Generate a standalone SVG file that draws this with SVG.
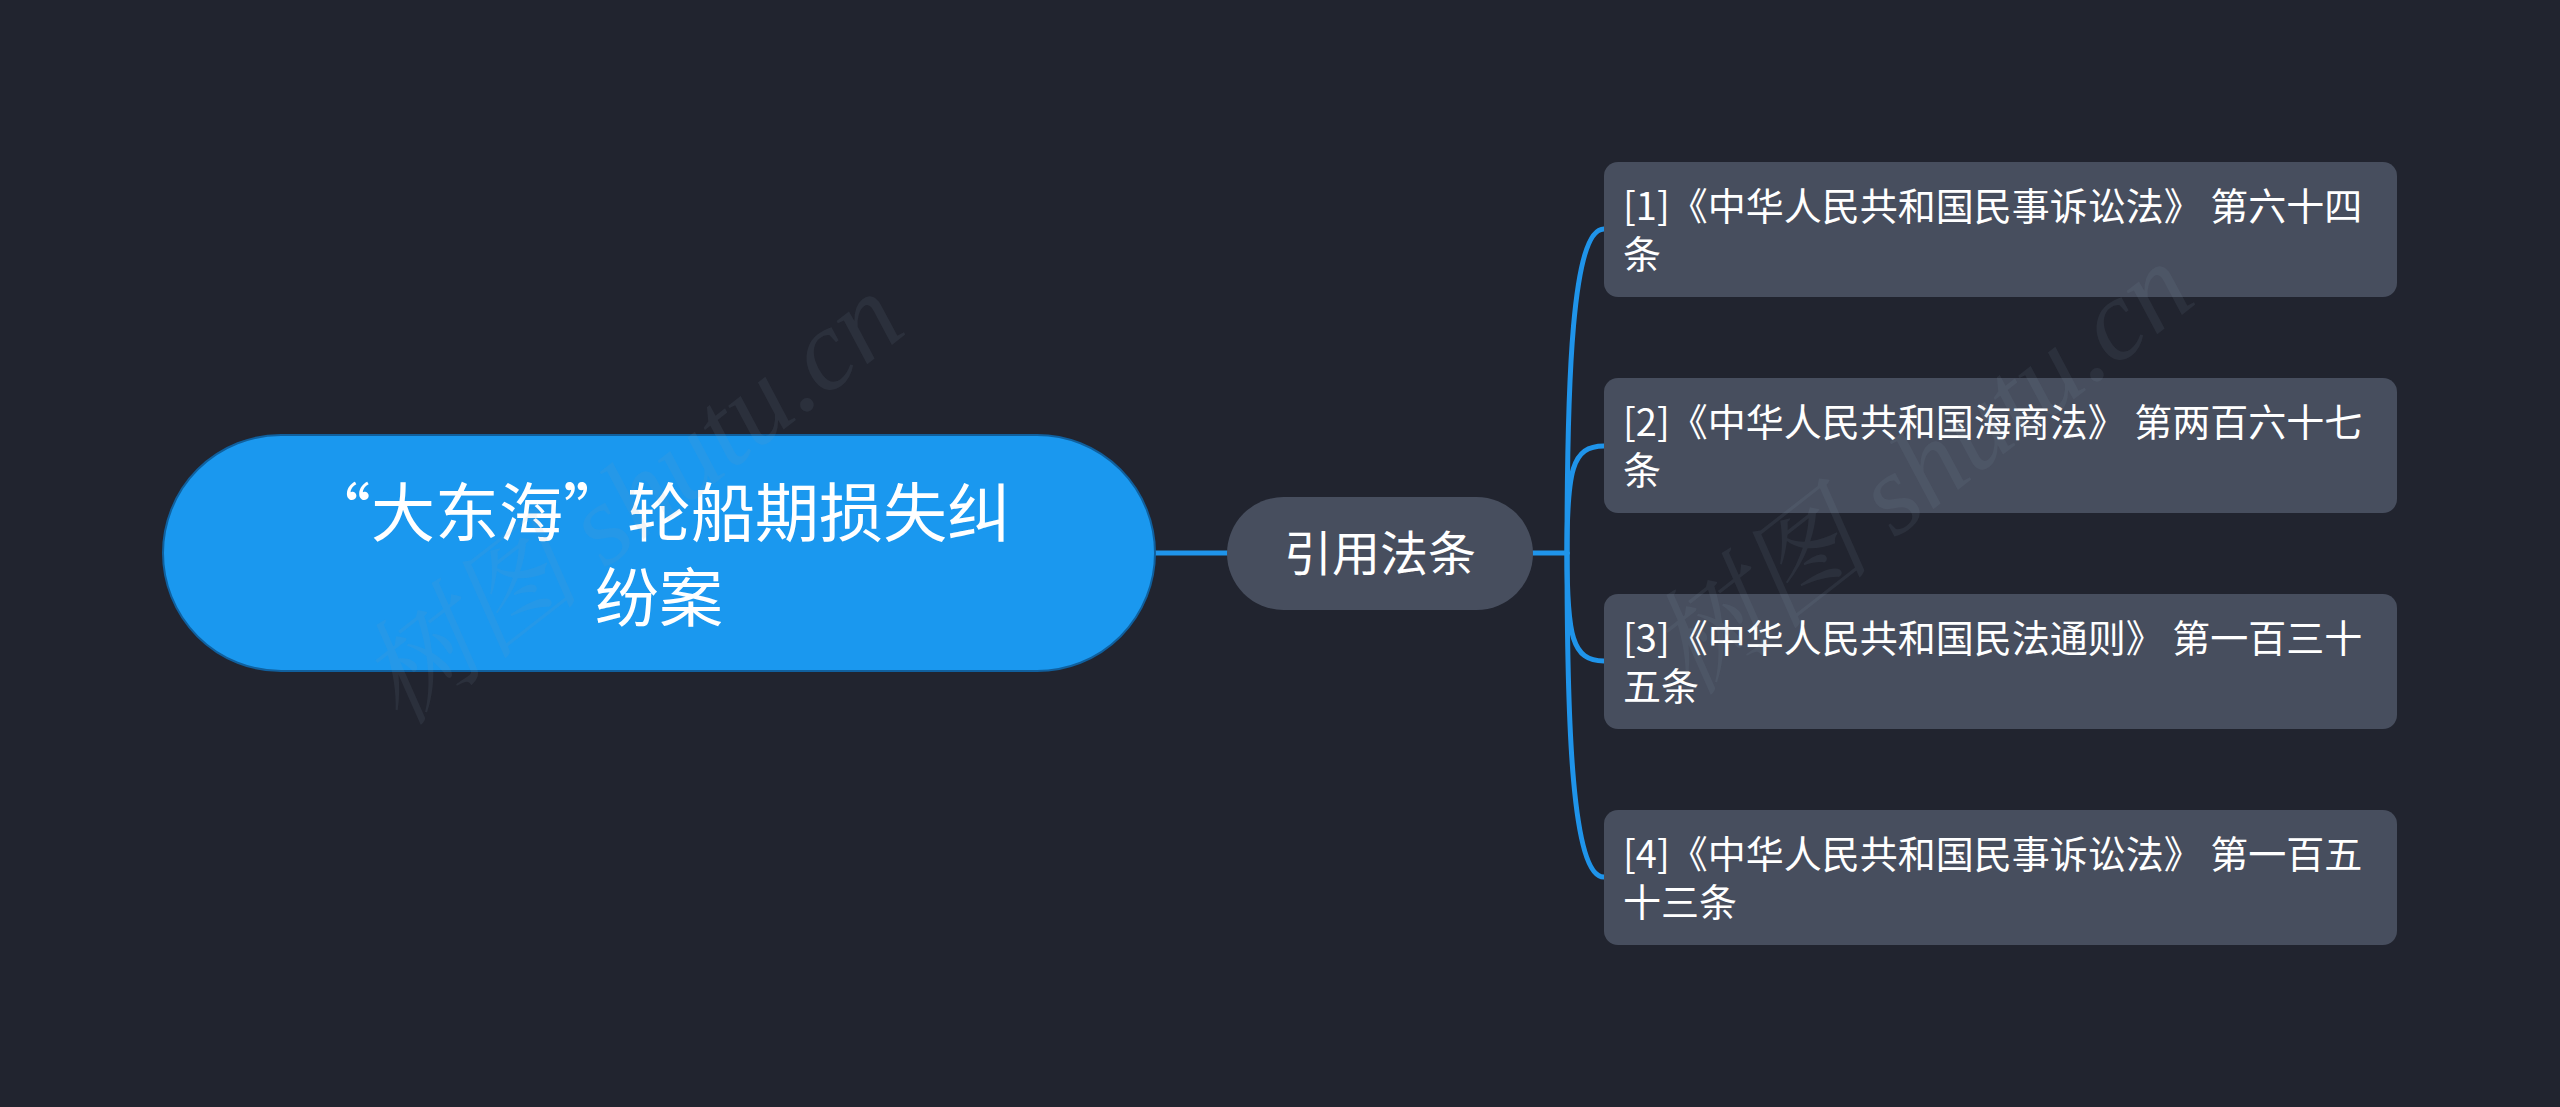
<svg xmlns="http://www.w3.org/2000/svg" width="2560" height="1107" viewBox="0 0 2560 1107">
<style>
.bg{fill:#21242f}
.root{fill:#1a98ef;stroke:#10609e;stroke-width:2}
.mid{fill:#474e5e}
.leaf{fill:#474e5e}
.t{font-family:"Noto Sans CJK SC","Noto Sans",sans-serif;fill:#ffffff}
.rt{font-size:64px}
.mt{font-size:48px}
.lt{font-size:38px}
.link{fill:none;stroke:#1f94ea;stroke-width:5;stroke-linecap:round}
.wm{font-family:"Liberation Serif","Noto Serif CJK SC","Noto Sans CJK SC",serif;font-style:italic;font-size:115px;fill:#8a9ab5;fill-opacity:0.10}
</style>
<rect class="bg" x="0" y="0" width="2560" height="1107"/>
<g id="connectors">
<path class="link" d="M1155 553 L1227 553"/>
<path class="link" d="M1533 553 L1567 553"/>
<path class="link" d="M1567 553 C1567 380 1572 229 1604 229"/>
<path class="link" d="M1567 553 C1567 470 1572 446 1604 446"/>
<path class="link" d="M1567 553 C1567 636 1572 661 1604 661"/>
<path class="link" d="M1567 553 C1567 726 1572 877 1604 877"/>
</g>
<g id="root">
<rect class="root" x="163" y="435" width="992" height="236" rx="118"/>
<text class="t rt" text-anchor="middle" x="659" y="536">“大东海”轮船期损失纠</text>
<text class="t rt" text-anchor="middle" x="659" y="621">纷案</text>
</g>
<g id="mid">
<rect class="mid" x="1227" y="497" width="306" height="113" rx="56.5"/>
<text class="t mt" text-anchor="middle" x="1380" y="571">引用法条</text>
</g>
<g id="leaf1">
<rect class="leaf" x="1604" y="162" width="793" height="135" rx="14"/>
<text class="t lt" x="1623" y="220">[1]《中华人民共和国民事诉讼法》 第六十四</text>
<text class="t lt" x="1623" y="268">条</text>
</g>
<g id="leaf2">
<rect class="leaf" x="1604" y="378" width="793" height="135" rx="14"/>
<text class="t lt" x="1623" y="436">[2]《中华人民共和国海商法》 第两百六十七</text>
<text class="t lt" x="1623" y="484">条</text>
</g>
<g id="leaf3">
<rect class="leaf" x="1604" y="594" width="793" height="135" rx="14"/>
<text class="t lt" x="1623" y="652">[3]《中华人民共和国民法通则》 第一百三十</text>
<text class="t lt" x="1623" y="700">五条</text>
</g>
<g id="leaf4">
<rect class="leaf" x="1604" y="810" width="793" height="135" rx="14"/>
<text class="t lt" x="1623" y="868">[4]《中华人民共和国民事诉讼法》 第一百五</text>
<text class="t lt" x="1623" y="916">十三条</text>
</g>
<g id="watermark">
<text class="wm" text-anchor="middle" transform="translate(655 530) rotate(-38)">树图 shutu.cn</text>
<text class="wm" text-anchor="middle" transform="translate(1945 500) rotate(-38)">树图 shutu.cn</text>
</g>
</svg>
